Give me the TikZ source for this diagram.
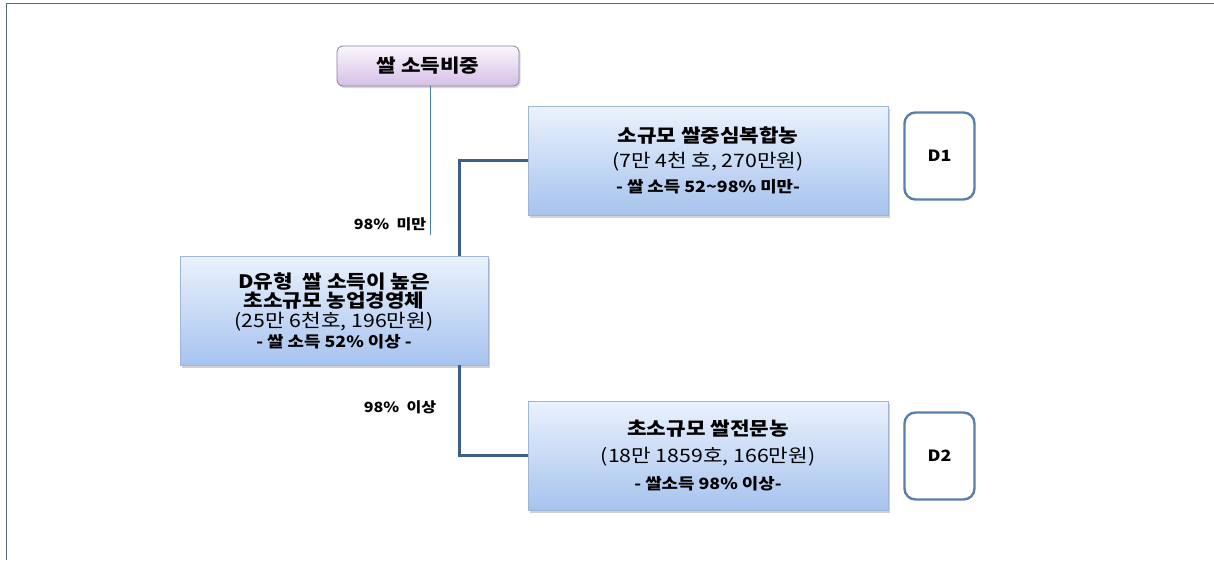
\documentclass[tikz,border=0pt]{standalone}
\usepackage{fontspec}
\newfontfamily\kr[FakeStretch=1.15]{Noto Sans CJK KR}
\usetikzlibrary{shadows,calc}
\definecolor{boxtop}{HTML}{EAF2FD}
\definecolor{boxbot}{HTML}{A7C3EE}
\definecolor{boxedge}{HTML}{9FB6D6}
\definecolor{lavtop}{HTML}{FBF6FD}
\definecolor{lavbot}{HTML}{D5BFE6}
\definecolor{lavedge}{HTML}{8F7F9E}
\definecolor{connc}{HTML}{3E5F8A}
\definecolor{thinc}{HTML}{4A7CA8}
\definecolor{dedge}{HTML}{5A7FAC}
\definecolor{frame}{HTML}{5A6670}
\tikzset{
  catbox/.style={draw=boxedge, line width=0.8pt, top color=boxtop, bottom color=boxbot,
    align=center, inner sep=0pt,
    drop shadow={shadow xshift=2pt, shadow yshift=-2.5pt, opacity=0.35}},
  headbox/.style={draw=lavedge, line width=0.8pt, rounded corners=6pt, top color=lavtop, bottom color=lavbot,
    align=center, inner sep=0pt, minimum width=182pt, minimum height=40pt,
    font={\kr\bfseries\fontsize{18.5}{20}\selectfont},
    drop shadow={shadow xshift=1.5pt, shadow yshift=-2pt, opacity=0.3}},
  codebox/.style={draw=dedge, line width=2.4pt, rounded corners=11pt, fill=white,
    minimum width=70pt, minimum height=87pt, inner sep=0pt,
    font={\kr\bfseries\fontsize{15.5}{17}\selectfont}},
  conn/.style={draw=connc, line width=3pt},
  thin/.style={draw=thinc, line width=0.9pt},
  lbl/.style={font={\kr\bfseries\fontsize{14}{16}\selectfont}, inner sep=0pt},
}
\newcommand{\bigt}{\kr\bfseries\fontsize{18.5}{20}\selectfont}
\newcommand{\regt}{\kr\fontsize{18.5}{20}\selectfont}
\newcommand{\smt}{\kr\bfseries\fontsize{15.5}{20}\selectfont}
\begin{document}
\begin{tikzpicture}[x=1pt,y=-1pt]
\useasboundingbox (0,0) rectangle (1214,560);
\fill[white] (0,0) rectangle (1214,560);
\draw[frame, line width=1pt] (6,560) -- (6,3) -- (1214,3);

% nodes
\node[headbox] (head) at (428,66) {쌀 소득비중};

\node[catbox, minimum width=308pt, minimum height=109pt] (D) at (334,310.5)
  {\bigt D유형\ \ 쌀 소득이 높은\\[1pt]
   \bigt 초소규모 농업경영체\\[2pt]
   \regt (25만 6천호, 196만원)\\[2pt]
   \smt - 쌀 소득 52\% 이상 -};

\node[catbox, minimum width=360pt, minimum height=109pt] (B1) at (708,160.5)
  {\bigt 소규모 쌀중심복합농\\[7pt]
   \regt (7만 4천 호, 270만원)\\[7pt]
   \smt - 쌀 소득 52\textasciitilde 98\% 미만-};

\node[catbox, minimum width=360pt, minimum height=109pt] (B2) at (708,455.5)
  {\bigt 초소규모 쌀전문농\\[9.5pt]
   \regt (18만 1859호, 166만원)\\[9.5pt]
   \smt - 쌀소득 98\% 이상-};

\node[codebox] (D1) at (939.5,156) {D1};
\node[codebox] (D2) at (939.5,456) {D2};

\node[lbl] (lt) at (390,224) {98\%\ \ 미만};
\node[lbl] (lb) at (400,407) {98\%\ \ 이상};

% connectors
\coordinate (jx) at (459,0);
\coordinate (thinend) at (430,235);
\draw[thin] (head.south -| thinend) -- (thinend);
\draw[conn] (D.north -| jx) |- (B1.west);
\draw[conn] (D.south -| jx) |- (B2.west);
\end{tikzpicture}
\end{document}
